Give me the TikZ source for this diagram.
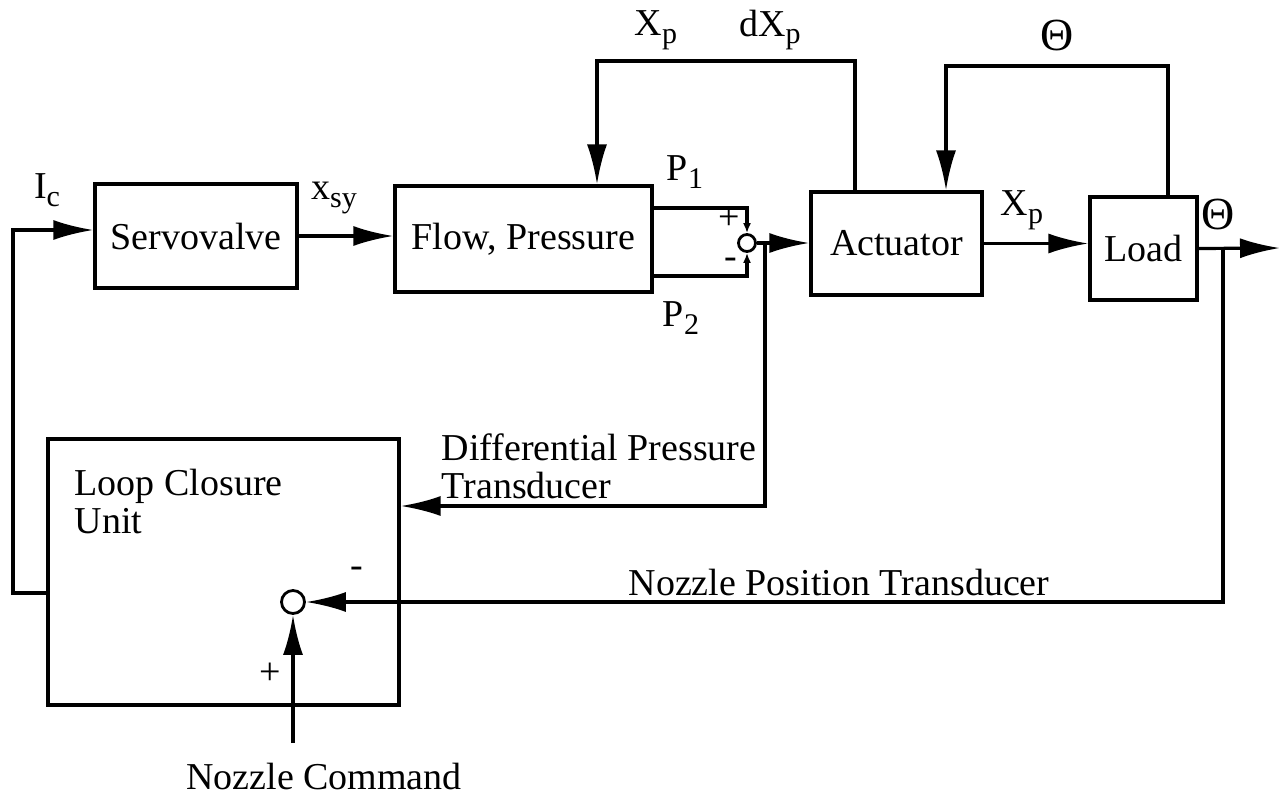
\documentclass[tikz,border=0pt]{standalone}
\usepackage{fontspec}
\setmainfont{Liberation Serif}
\usetikzlibrary{arrows.meta}

\newcommand{\blockfont}{\fontsize{19}{19}\selectfont}
\newcommand{\lowsub}[1]{\raisebox{-0.45ex}{\fontsize{15}{15}\selectfont #1}}
\newcommand{\bigtheta}{{\fontsize{23}{23}\selectfont Θ}}

\begin{document}
\begin{tikzpicture}[
    x=0.5pt, y=-0.5pt,
    line width=1.6pt,
    block/.style={rectangle, draw, inner sep=0pt, font=\blockfont},
    junc/.style={circle, draw, inner sep=0pt, line width=1.4pt},
    lbl/.style={inner sep=0pt, font=\blockfont},
    arrow/.style={-{Latex[length=20pt,width=10pt]}},
    tick/.style={-{Latex[length=5pt,width=4pt]}}
]
\useasboundingbox (0,0) rectangle (1284,798);

% Blocks
\node[block, minimum width=101pt, minimum height=52pt] (servo) at (196,236) {Servovalve};
\node[block, minimum width=128.5pt, minimum height=53pt] (flow) at (523.5,239) {Flow, Pressure};
\node[block, minimum width=85.5pt, minimum height=51.5pt] (act) at (896.5,243.5) {Actuator};
\node[block, minimum width=53.5pt, minimum height=51.5pt] (load) at (1143.5,248.5) {Load};
\node[block, minimum width=175.5pt, minimum height=133pt] (lcu) at (223.5,572) {};
\node[lbl, align=left, anchor=north west] (lcutext) at (73,468) {Loop Closure\\Unit};

% Summing junctions
\node[junc, minimum size=8.5pt] (sumdp) at (747,243) {};
\node[junc, minimum size=11.5pt] (sumnp) at (293,602) {};

% Bend points and free ends
\coordinate (ret) at (13,593);
\coordinate (icy) at (0,230);
\coordinate (p1y) at (0,208);
\coordinate (p2y) at (0,276);
\coordinate (dptap) at (765,243);
\coordinate (dpy) at (0,506);
\coordinate (ptap) at (1223,248);
\coordinate (outend) at (1280,248);
\coordinate (cmd) at (293,743);
\coordinate (xpR) at (855,61);
\coordinate (xpL) at (597,61);
\coordinate (thR) at (1168,66);
\coordinate (thL) at (946,66);

% Forward path
\draw[arrow] (lcu.west |- ret) -- (ret) |- (servo.west |- icy);
\draw[arrow] (servo.east) -- (servo.east -| flow.west);
\draw[tick] (flow.east |- p1y) -| (sumdp.north);
\draw[tick] (flow.east |- p2y) -| (sumdp.south);
\draw[arrow] (sumdp.east) -- (sumdp.east -| act.west);
\draw[arrow] (act.east) -- (act.east -| load.west);
\draw[arrow] (load.east) -- (outend);

% Feedback paths
\draw[arrow] (act.north -| xpR) -- (xpR) -- (xpL) -- (flow.north -| xpL);
\draw[arrow] (load.north -| thR) -- (thR) -- (thL) -- (act.north -| thL);
\draw[arrow] (dptap) |- (lcu.east |- dpy);
\draw[arrow] (ptap) |- (sumnp.east);
\draw[arrow] (cmd) -- (sumnp.south);

% Signal labels
\node[lbl] (ic) at (47,190) {I\lowsub{c}};
\node[lbl] (xsy) at (334,198) {x\lowsub{sy}};
\node[lbl] (p1) at (685,172) {P\lowsub{1}};
\node[lbl] (p2) at (681,318) {P\lowsub{2}};
\node[lbl] (p1sgn) at (729,219) {+};
\node[lbl] (p2sgn) at (731,263) {-};
\node[lbl] (xpfb) at (656,30) {X\lowsub{p}};
\node[lbl] (dxpfb) at (770,30) {dX\lowsub{p}};
\node[lbl] (thfb) at (1057,35) {\bigtheta};
\node[lbl] (xpout) at (1022,210) {X\lowsub{p}};
\node[lbl] (thout) at (1218,214) {\bigtheta};
\node[lbl, align=left, anchor=west] (dptext) at (440,466) {Differential Pressure\\Transducer};
\node[lbl, anchor=west] (nptext) at (627,582) {Nozzle Position Transducer};
\node[lbl] (nmsgn) at (357,572) {-};
\node[lbl] (npsgn) at (270,674) {+};
\node[lbl] (cmdtext) at (324,776) {Nozzle Command};

\end{tikzpicture}
\end{document}
